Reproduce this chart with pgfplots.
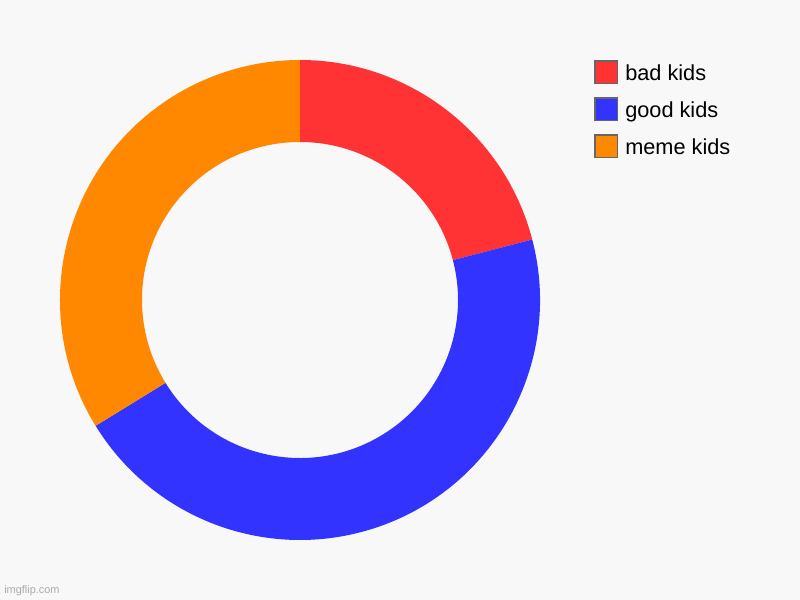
\documentclass[border=0pt]{standalone}
\usepackage{pgfplots}
\usepackage{pgfplotstable}
\pgfplotsset{compat=1.18}
\usepackage{fontspec}
\setmainfont{Liberation Sans}
\definecolor{bg}{RGB}{248,248,248}
\definecolor{kred}{RGB}{255,51,51}
\definecolor{kblue}{RGB}{51,51,255}
\definecolor{korange}{RGB}{255,136,0}
\definecolor{lgray}{RGB}{102,102,102}
\definecolor{wm}{RGB}{170,170,170}
\pgfplotstableread{
label value
{bad kids} 31
{good kids} 67
{meme kids} 50
}\kids
\begin{document}
\begin{tikzpicture}
\pgfplotstablegetelem{0}{value}\of\kids \let\va\pgfplotsretval
\pgfplotstablegetelem{1}{value}\of\kids \let\vb\pgfplotsretval
\pgfplotstablegetelem{2}{value}\of\kids \let\vc\pgfplotsretval
\pgfmathsetmacro\tot{\va+\vb+\vc}
\pgfmathsetmacro\aA{90}
\pgfmathsetmacro\aB{90-360*(\va/\tot)}
\pgfmathsetmacro\aC{\aB-360*(\vb/\tot)}
\pgfmathsetmacro\aD{\aC-360*(\vc/\tot)}
\fill[bg] (0,0) rectangle (600pt,450pt);
\begin{axis}[
  at={(0,0)}, anchor=south west,
  scale only axis, width=600pt, height=450pt,
  xmin=0, xmax=800, ymin=0, ymax=600,
  hide axis, clip=false,
  legend style={draw=none, fill=none, at={(axis cs:594,540)}, anchor=north west,
    font=\fontsize{16.3}{19.5}\selectfont, row sep=9.75pt, column sep=5.25pt, inner sep=0pt,
    nodes={inner sep=0pt, text depth=0pt}},
  legend cell align=left,
  legend image code/.code={\draw[#1, draw=lgray, line width=1.1pt] (0.55pt,-7.9pt) rectangle (17.45pt,9.0pt);},
]
\addlegendimage{fill=kred}
\addlegendentry{bad kids}
\addlegendimage{fill=kblue}
\addlegendentry{good kids}
\addlegendimage{fill=korange}
\addlegendentry{meme kids}
\fill[kred] (axis cs:300,300) ++(\aA:180pt) arc[start angle=\aA, end angle=\aB, radius=180pt] -- ++(\aB+180:61.5pt) arc[start angle=\aB, end angle=\aA, radius=118.5pt] -- cycle;
\fill[kblue] (axis cs:300,300) ++(\aB:180pt) arc[start angle=\aB, end angle=\aC, radius=180pt] -- ++(\aC+180:61.5pt) arc[start angle=\aC, end angle=\aB, radius=118.5pt] -- cycle;
\fill[korange] (axis cs:300,300) ++(\aC:180pt) arc[start angle=\aC, end angle=\aD, radius=180pt] -- ++(\aD+180:61.5pt) arc[start angle=\aD, end angle=\aC, radius=118.5pt] -- cycle;
\node[anchor=base west, inner sep=0pt, text=wm, font=\fontsize{8.2}{10}\selectfont] at (axis cs:4,7) {imgflip.com};
\end{axis}
\pgfresetboundingbox
\path (0,0) rectangle (600pt,450pt);
\end{tikzpicture}
\end{document}
